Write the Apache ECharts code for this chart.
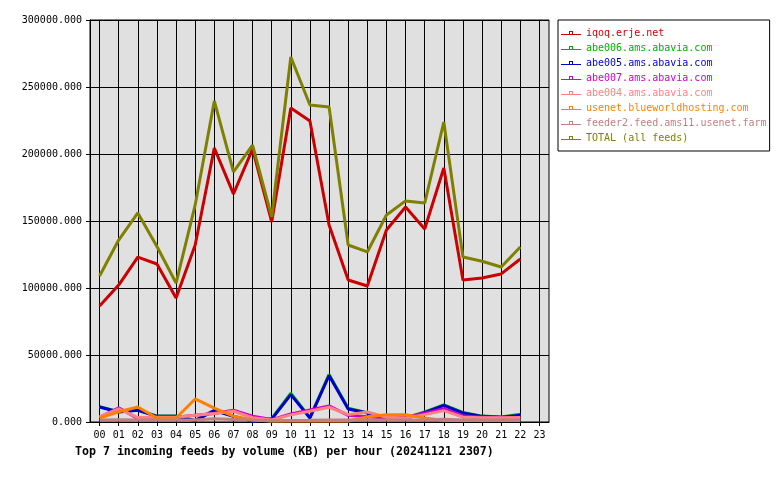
<!DOCTYPE html>
<html>
<head>
<meta charset="utf-8">
<script src="https://cdn.jsdelivr.net/npm/echarts@6/dist/echarts.min.js"></script>
<style>html,body{margin:0;padding:0;background:#fff}#c{width:780px;height:480px}</style>
</head>
<body>
<div id="c"></div>
<script>
var hours = ['00','01','02','03','04','05','06','07','08','09','10','11','12','13','14','15','16','17','18','19','20','21','22','23'];
var seriesNames = ['iqoq.erje.net','abe006.ams.abavia.com','abe005.ams.abavia.com','abe007.ams.abavia.com','abe004.ams.abavia.com','usenet.blueworldhosting.com','feeder2.feed.ams11.usenet.farm','TOTAL (all feeds)'];
var iqoq = [86600,102200,123100,117900,92500,132100,204500,170200,203700,149300,234300,224600,147000,106000,101500,143300,160400,144000,189600,106000,107500,110500,121600];
var abe006 = [11500,7700,9000,4400,4400,1200,8800,4400,800,2500,21500,3300,35500,10200,7000,3200,3000,7600,12800,7200,4400,3800,5800];
var abe005 = [11200,7500,8700,4200,4200,1000,8500,4200,500,2200,20400,3000,34700,9700,6700,3000,2500,7000,12400,6700,4200,3500,5000];
var abe007 = [3500,10600,2500,3600,3600,5000,6300,8800,4300,1800,6000,9000,12000,5000,4000,3000,3500,6500,10000,4500,3500,3500,3000];
var abe004 = [3900,9800,3300,3600,3600,5000,6300,8000,3200,1500,5300,8000,11000,5500,7500,3500,3000,5500,8500,3600,3100,3100,3300];
var usenet = [3000,7600,11200,3000,3000,17200,10400,4300,1500,800,800,800,800,800,3700,5500,5500,3000,1200,1200,1200,1200,1200];
var feeder2 = [1500,1600,1500,1500,1500,1500,2500,1800,1500,1000,1200,1300,1500,1500,1500,1500,1500,1500,2000,1500,1500,1500,1500];
var total = [109000,135800,156000,131000,103700,162000,239600,186600,206700,153000,272400,236600,235100,132100,126900,154500,165000,163400,223900,123100,120000,115700,130600];
var yTicks = [0,50000,100000,150000,200000,250000,300000];
var colors = ['#cc0000','#00b000','#0000cc','#cc00cc','#ff8080','#ff8000','#c08080','#808000'];
var titleText = 'Top 7 incoming feeds by volume (KB) per hour (20241121 2307)';

var allData = [iqoq, abe006, abe005, abe007, abe004, usenet, feeder2, total];
var FONT = '"DejaVu Sans Mono", "Liberation Mono", monospace';
var chart = echarts.init(document.getElementById('c'), null, {renderer: 'canvas'});
var iconPath = 'path://M0,4 L20,4 L20,5 L0,5 Z M8,1 L12,1 L12,4 L11,4 L11,2 L9,2 L9,4 L8,4 Z';
chart.setOption({
  animation: false,
  backgroundColor: '#ffffff',
  title: {
    text: titleText, left: 75, top: 446, padding: 0,
    textStyle: {fontFamily: FONT, fontSize: 11.6, fontWeight: 'bold', color: '#000'}
  },
  legend: {
    orient: 'vertical', left: 558, top: 20,
    padding: [8, 3, 8, 3],
    backgroundColor: '#ffffff', borderColor: '#000', borderWidth: 1,
    itemWidth: 20, itemHeight: 5, itemGap: 5,
    icon: iconPath,
    data: seriesNames.map(function (n, i) { return {name: n, textStyle: {color: colors[i]}}; }),
    textStyle: {fontFamily: FONT, fontSize: 10}
  },
  grid: {
    left: 90, right: 231, top: 20, bottom: 58, show: true,
    backgroundColor: '#e0e0e0', borderColor: '#000', borderWidth: 1
  },
  xAxis: {
    type: 'category', data: hours, boundaryGap: true,
    axisLine: {show: true, lineStyle: {color: '#000', width: 1}},
    axisTick: {show: true, alignWithLabel: true, length: 4, lineStyle: {color: '#000'}},
    axisLabel: {interval: 0, margin: 8, color: '#000', fontFamily: FONT, fontSize: 10},
    splitLine: {show: true, alignWithLabel: true, interval: 0, lineStyle: {color: '#000', width: 1}}
  },
  yAxis: {
    type: 'value', min: yTicks[0], max: yTicks[yTicks.length - 1], interval: yTicks[1] - yTicks[0],
    axisLine: {show: true, lineStyle: {color: '#000', width: 1}},
    axisTick: {show: true, length: 4, lineStyle: {color: '#000'}},
    axisLabel: {margin: 8, color: '#000', fontFamily: FONT, fontSize: 10,
      formatter: function (v) { return v.toFixed(3); }},
    splitLine: {show: true, lineStyle: {color: '#000', width: 1}}
  },
  series: seriesNames.map(function (n, i) {
    return {
      name: n, type: 'line', data: allData[i], showSymbol: false, symbol: 'none',
      color: colors[i],
      lineStyle: {color: colors[i], width: 3},
      itemStyle: {color: colors[i]},
      z: 2 + i
    };
  })
});
</script>
</body>
</html>
